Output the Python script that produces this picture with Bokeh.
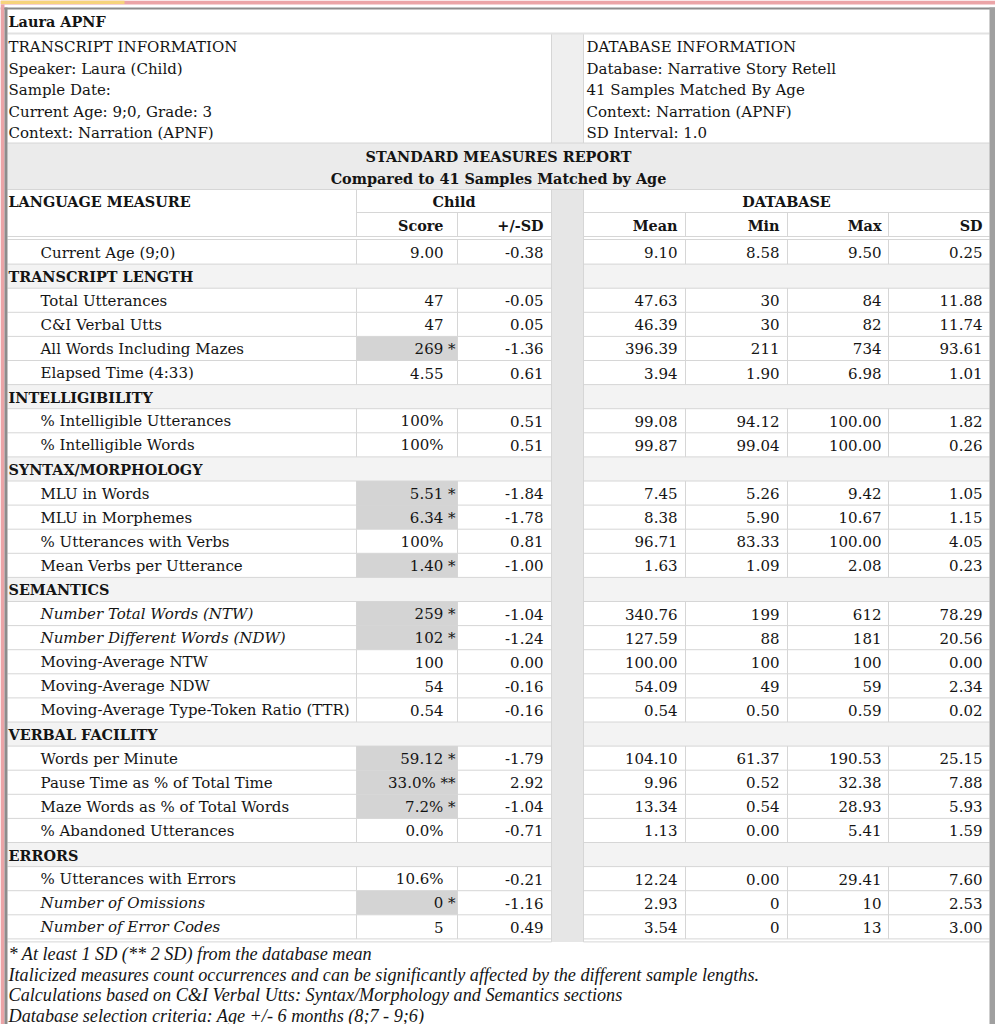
from bokeh.plotting import figure
from bokeh.models import Range1d
from bokeh.core.properties import value
from bokeh.embed import file_html
from bokeh.resources import INLINE

# ---------------- data ----------------
title = "Laura APNF"
transcript_info = ["TRANSCRIPT INFORMATION", "Speaker: Laura (Child)", "Sample Date:",
                   "Current Age: 9;0, Grade: 3", "Context: Narration (APNF)"]
database_info = ["DATABASE INFORMATION", "Database: Narrative Story Retell",
                 "41 Samples Matched By Age", "Context: Narration (APNF)", "SD Interval: 1.0"]
report_title = ["STANDARD MEASURES REPORT", "Compared to 41 Samples Matched by Age"]
group_heads = ["LANGUAGE MEASURE", "Child", "DATABASE"]
col_heads = ["Score", "+/-SD", "Mean", "Min", "Max", "SD"]

measures = ["Current Age (9;0)",
            "Total Utterances", "C&I Verbal Utts", "All Words Including Mazes", "Elapsed Time (4:33)",
            "% Intelligible Utterances", "% Intelligible Words",
            "MLU in Words", "MLU in Morphemes", "% Utterances with Verbs", "Mean Verbs per Utterance",
            "Number Total Words (NTW)", "Number Different Words (NDW)", "Moving-Average NTW",
            "Moving-Average NDW", "Moving-Average Type-Token Ratio (TTR)",
            "Words per Minute", "Pause Time as % of Total Time", "Maze Words as % of Total Words",
            "% Abandoned Utterances",
            "% Utterances with Errors", "Number of Omissions", "Number of Error Codes"]
section_of = [""] + ["TRANSCRIPT LENGTH"] * 4 + ["INTELLIGIBILITY"] * 2 + ["SYNTAX/MORPHOLOGY"] * 4 \
             + ["SEMANTICS"] * 5 + ["VERBAL FACILITY"] * 4 + ["ERRORS"] * 3
italic_measures = ["Number Total Words (NTW)", "Number Different Words (NDW)",
                   "Number of Omissions", "Number of Error Codes"]
score = ["9.00", "47", "47", "269 *", "4.55", "100%", "100%", "5.51 *", "6.34 *", "100%", "1.40 *",
         "259 *", "102 *", "100", "54", "0.54", "59.12 *", "33.0% **", "7.2% *", "0.0%",
         "10.6%", "0 *", "5"]
plus_minus_sd = ["-0.38", "-0.05", "0.05", "-1.36", "0.61", "0.51", "0.51", "-1.84", "-1.78", "0.81",
                 "-1.00", "-1.04", "-1.24", "0.00", "-0.16", "-0.16", "-1.79", "2.92", "-1.04",
                 "-0.71", "-0.21", "-1.16", "0.49"]
db_mean = ["9.10", "47.63", "46.39", "396.39", "3.94", "99.08", "99.87", "7.45", "8.38", "96.71",
           "1.63", "340.76", "127.59", "100.00", "54.09", "0.54", "104.10", "9.96", "13.34", "1.13",
           "12.24", "2.93", "3.54"]
db_min = ["8.58", "30", "30", "211", "1.90", "94.12", "99.04", "5.26", "5.90", "83.33", "1.09",
          "199", "88", "100", "49", "0.50", "61.37", "0.52", "0.54", "0.00", "0.00", "0", "0"]
db_max = ["9.50", "84", "82", "734", "6.98", "100.00", "100.00", "9.42", "10.67", "100.00", "2.08",
          "612", "181", "100", "59", "0.59", "190.53", "32.38", "28.93", "5.41", "29.41", "10", "13"]
db_sd = ["0.25", "11.88", "11.74", "93.61", "1.01", "1.82", "0.26", "1.05", "1.15", "4.05", "0.23",
         "78.29", "20.56", "0.00", "2.34", "0.02", "25.15", "7.88", "5.93", "1.59", "7.60", "2.53",
         "3.00"]
footnotes = ["* At least 1 SD (** 2 SD) from the database mean",
             "Italicized measures count occurrences and can be significantly affected by the different sample lengths.",
             "Calculations based on C&I Verbal Utts: Syntax/Morphology and Semantics sections",
             "Database selection criteria: Age +/- 6 months (8;7 - 9;6)"]

# ---------------- layout ----------------
FONT = value("DejaVu Serif")
FS = "15px"
BFS = "14.4px"
NOTE_FONT = value("Liberation Serif")
NOTE_FS = "18.2px"
TXT = "#141414"
GRID = "#d6d6d6"
XL, XM, XS, XD, XG, XMEAN, XMIN, XMAX, XR = 7, 356, 457, 551, 583, 685, 787, 888, 989
RH = 24.1
Y0 = 239.5

p = figure(width=995, height=1024, x_range=Range1d(0, 995), y_range=Range1d(1024, 0),
           output_backend="svg", toolbar_location=None, min_border=0)
p.axis.visible = False
p.grid.visible = False
p.outline_line_color = None
p.background_fill_color = "white"
p.border_fill_color = "white"

# build rows
rows = []  # (kind, text, measure index)
prev = ""
for i, m in enumerate(measures):
    if section_of[i] and section_of[i] != prev:
        rows.append(("section", section_of[i], None))
        prev = section_of[i]
    rows.append(("measure", m, i))
n_rows = len(rows)
row_top = [Y0 + k * RH for k in range(n_rows)]
Y_END = Y0 + n_rows * RH

# backgrounds
p.quad(left=[XL], right=[XR], top=[142.5], bottom=[189], fill_color="#ebebeb", line_color=None)
p.quad(left=[XD], right=[XG], top=[33], bottom=[142.5], fill_color="#efefef", line_color=None)
p.quad(left=[XD], right=[XG], top=[189], bottom=[Y_END + 3], fill_color="#e6e6e6", line_color=None)

sec_tops = [row_top[k] for k, r in enumerate(rows) if r[0] == "section"]
p.quad(left=[XL] * len(sec_tops) + [XG] * len(sec_tops),
       right=[XD] * len(sec_tops) + [XR] * len(sec_tops),
       top=sec_tops * 2, bottom=[t + RH for t in sec_tops] * 2,
       fill_color="#f3f3f3", line_color=None)

hi_tops = [row_top[k] for k, r in enumerate(rows) if r[0] == "measure" and "*" in score[r[2]]]
p.quad(left=[XM] * len(hi_tops), right=[XS] * len(hi_tops), top=hi_tops,
       bottom=[t + RH for t in hi_tops], fill_color="#d4d4d4", line_color=None)

# lines
x0, y0, x1, y1 = [], [], [], []
def hl(a, b, y):
    x0.append(a); x1.append(b); y0.append(y); y1.append(y)
def vl(x, a, b):
    x0.append(x); x1.append(x); y0.append(a); y1.append(b)

hl(XL, XR, 142.5)
hl(XL, XR, 189)
hl(XM, XD, 212); hl(XG, XR, 212)
vl(XD, 33, 142.5); vl(XG, 33, 142.5)
vl(XM, 189, 236); vl(XD, 189, Y_END + 3); vl(XG, 189, Y_END + 3)
for x in (XS, XMEAN, XMIN, XMAX):
    vl(x, 212, 236)
for yy in (236, 239, Y_END, Y_END + 3):
    hl(XL, XD, yy); hl(XG, XR, yy)
for k, r in enumerate(rows):
    t = row_top[k]
    if k > 0:
        hl(XL, XD, t); hl(XG, XR, t)
    if r[0] == "measure":
        for x in (XM, XS, XMEAN, XMIN, XMAX):
            vl(x, t, t + RH)
p.segment(x0=x0, y0=y0, x1=x1, y1=y1, line_color=GRID, line_width=1)
p.segment(x0=[XL], y0=[33], x1=[XR], y1=[33], line_color="#e2e2e2", line_width=2)

# window frame
p.quad(left=[0], right=[995], top=[0], bottom=[4], fill_color="#eba4a7", line_color=None)
p.quad(left=[0], right=[124], top=[0], bottom=[3.5], fill_color="#f6d47c", line_color=None)
p.quad(left=[0], right=[995], top=[7], bottom=[9], fill_color="#8c8c8c", line_color=None)
p.quad(left=[0], right=[4], top=[4], bottom=[1024], fill_color="#eba4a7", line_color=None)
p.quad(left=[4], right=[7], top=[7], bottom=[1024], fill_color="#8c8c8c", line_color=None)
p.quad(left=[XR], right=[995], top=[7], bottom=[1024], fill_color="#a0a0a0", line_color=None)

def txt(xs, ys, texts, align="left", style="normal", size=FS, font=FONT):
    p.text(x=xs, y=ys, text=texts, text_align=align, text_baseline="middle",
           text_font=font, text_font_size=size, text_font_style=style, text_color=TXT)

# title and info
txt([8], [21], [title], style="bold", size=BFS)
info_y = [46.5 + k * 21.5 for k in range(len(transcript_info))]
txt([8] * len(transcript_info), info_y, transcript_info)
txt([586] * len(database_info), info_y, database_info)

# report title
txt([498, 498], [156, 177.5], report_title, align="center", style="bold", size=BFS)

# headers
txt([8], [201], [group_heads[0]], style="bold", size=BFS)
txt([(XM + XD) / 2, (XG + XR) / 2], [201, 201], group_heads[1:], align="center", style="bold", size=BFS)
head_x = [443, 543, 677, 779, 881, 982]
txt(head_x, [225] * 6, col_heads, align="right", style="bold", size=BFS)

# body
sec_x, sec_y, sec_t = [], [], []
m_x, m_y, m_t, mi_x, mi_y, mi_t = [], [], [], [], [], []
sc_x, sc_y, sc_t = [], [], []
num_x, num_y, num_t = [], [], []
for k, r in enumerate(rows):
    cy = row_top[k] + RH / 2 + 0.5
    if r[0] == "section":
        sec_x.append(8); sec_y.append(cy); sec_t.append(r[1])
        continue
    i = r[2]
    if r[1] in italic_measures:
        mi_x.append(40); mi_y.append(cy); mi_t.append(r[1])
    else:
        m_x.append(40); m_y.append(cy); m_t.append(r[1])
    sc_x.append(455 if "*" in score[i] else 443); sc_y.append(cy); sc_t.append(score[i])
    for xr, arr in zip(head_x[1:], (plus_minus_sd, db_mean, db_min, db_max, db_sd)):
        num_x.append(xr); num_y.append(cy); num_t.append(arr[i])

txt(sec_x, sec_y, sec_t, style="bold", size=BFS)
txt(m_x, m_y, m_t)
txt(mi_x, mi_y, mi_t, style="italic")
txt(sc_x, sc_y, sc_t, align="right")
txt(num_x, num_y, num_t, align="right")

# footnotes
fy = [953.5 + k * 20.5 for k in range(len(footnotes))]
txt([8] * len(footnotes), fy, footnotes, style="italic", size=NOTE_FS, font=NOTE_FONT)

open("out.html", "w").write(file_html(p, INLINE))
